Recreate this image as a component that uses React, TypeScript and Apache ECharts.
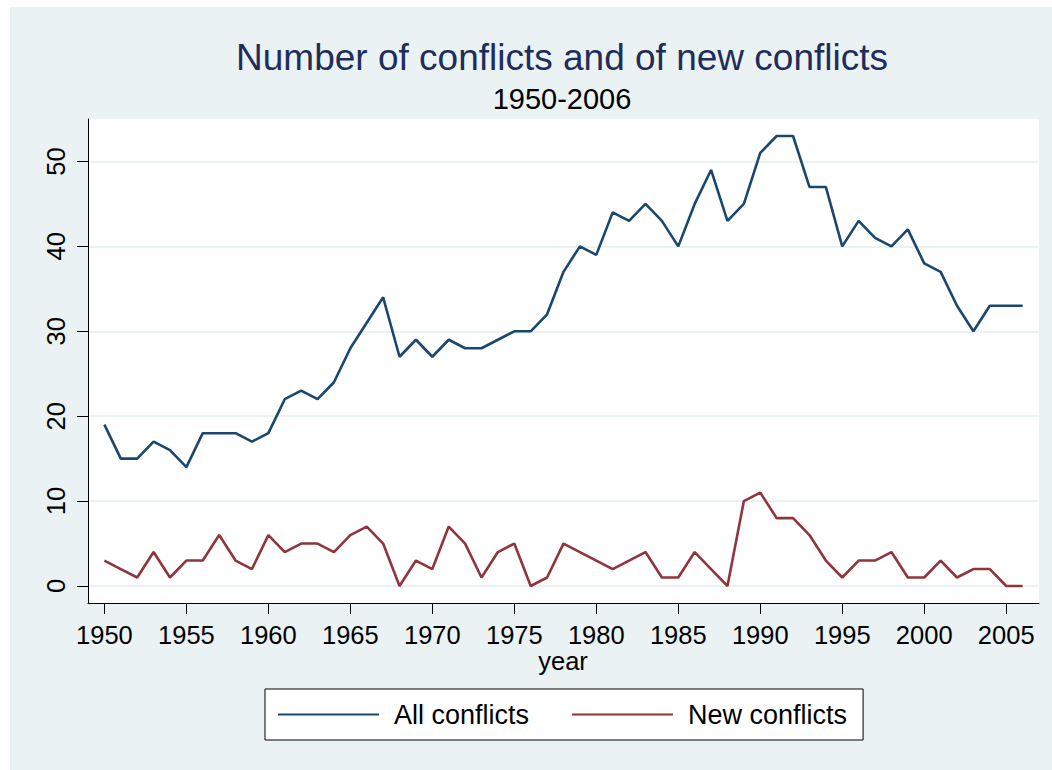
import React, { useEffect, useRef } from "react";
import * as echarts from "echarts";

const years: number[] = [
  1950, 1951, 1952, 1953, 1954, 1955, 1956, 1957, 1958, 1959,
  1960, 1961, 1962, 1963, 1964, 1965, 1966, 1967, 1968, 1969,
  1970, 1971, 1972, 1973, 1974, 1975, 1976, 1977, 1978, 1979,
  1980, 1981, 1982, 1983, 1984, 1985, 1986, 1987, 1988, 1989,
  1990, 1991, 1992, 1993, 1994, 1995, 1996, 1997, 1998, 1999,
  2000, 2001, 2002, 2003, 2004, 2005, 2006,
];

const allConflicts: number[] = [
  19, 15, 15, 17, 16, 14, 18, 18, 18, 17,
  18, 22, 23, 22, 24, 28, 31, 34, 27, 29,
  27, 29, 28, 28, 29, 30, 30, 32, 37, 40,
  39, 44, 43, 45, 43, 40, 45, 49, 43, 45,
  51, 53, 53, 47, 47, 40, 43, 41, 40, 42,
  38, 37, 33, 30, 33, 33, 33,
];

const newConflicts: number[] = [
  3, 2, 1, 4, 1, 3, 3, 6, 3, 2,
  6, 4, 5, 5, 4, 6, 7, 5, 0, 3,
  2, 7, 5, 1, 4, 5, 0, 1, 5, 4,
  3, 2, 3, 4, 1, 1, 4, 2, 0, 10,
  11, 8, 8, 6, 3, 1, 3, 3, 4, 1,
  1, 3, 1, 2, 2, 0, 0,
];

const xTicks: number[] = [1950, 1955, 1960, 1965, 1970, 1975, 1980, 1985, 1990, 1995, 2000, 2005];
const yTicks: number[] = [0, 10, 20, 30, 40, 50];

const titleText = "Number of conflicts and of new conflicts";
const subtitleText = "1950-2006";
const xName = "year";
const seriesNames = ["All conflicts", "New conflicts"];

const FONT = "'Liberation Sans', Arial, sans-serif";
const BG = "#EAF2F3";

export default function App() {
  const ref = useRef<HTMLDivElement>(null);
  useEffect(() => {
    if (!ref.current) return;
    const chart = echarts.init(ref.current, null, { renderer: "svg" });
    const pair = (vals: number[]) => years.map((y, i) => [y, vals[i]]);
    chart.setOption({
      animation: false,
      backgroundColor: BG,
      textStyle: { fontFamily: FONT },
      graphic: [
        {
          type: "text",
          x: 552,
          y: 50,
          style: {
            text: titleText,
            align: "center",
            verticalAlign: "middle",
            fontFamily: FONT,
            fontSize: 37,
            fill: "#1E2D5B",
          },
        },
        {
          type: "text",
          x: 552,
          y: 92,
          style: {
            text: subtitleText,
            align: "center",
            verticalAlign: "middle",
            fontFamily: FONT,
            fontSize: 29,
            fill: "#000",
          },
        },
        {
          type: "text",
          x: 553,
          y: 654,
          style: {
            text: xName,
            align: "center",
            verticalAlign: "middle",
            fontFamily: FONT,
            fontSize: 25.5,
            fill: "#000",
          },
        },
      ],
      grid: {
        left: 78,
        top: 112,
        width: 951,
        height: 484,
        show: true,
        backgroundColor: "#fff",
        borderWidth: 0,
        containLabel: false,
      },
      legend: {
        left: 255,
        top: 682,
        orient: "horizontal",
        backgroundColor: "#fff",
        borderColor: "#000",
        borderWidth: 1,
        borderRadius: 0,
        padding: [12, 16, 12, 12],
        itemWidth: 101,
        itemHeight: 14,
        itemGap: 42,
        itemStyle: { opacity: 0 },
        textStyle: {
          fontFamily: FONT,
          fontSize: 27,
          color: "#000",
          padding: [0, 0, 0, 10],
        },
        data: seriesNames,
      },
      xAxis: {
        type: "value",
        min: 1949,
        max: 2007,
        axisLine: { show: true, onZero: false, lineStyle: { color: "#000", width: 1 } },
        axisTick: { show: true, inside: false, length: 11, customValues: xTicks, lineStyle: { color: "#000", width: 1 } },
        axisLabel: {
          customValues: xTicks,
          margin: 19,
          fontFamily: FONT,
          fontSize: 25.5,
          color: "#000",
          formatter: (v: number) => String(v),
        },
        splitLine: { show: false },
      },
      yAxis: {
        type: "value",
        min: -2,
        max: 55,
        axisLine: { show: true, onZero: false, lineStyle: { color: "#000", width: 1 } },
        axisTick: { show: true, inside: false, length: 11, customValues: yTicks, lineStyle: { color: "#000", width: 1 } },
        axisLabel: {
          customValues: yTicks,
          rotate: 90,
          margin: 19,
          fontFamily: FONT,
          fontSize: 25.5,
          color: "#000",
        },
        splitLine: { show: true, lineStyle: { color: BG, width: 2 } },
      },
      series: [
        {
          name: seriesNames[0],
          type: "line",
          data: pair(allConflicts),
          symbol: "none",
          lineStyle: { color: "#1A476F", width: 2.6 },
          itemStyle: { color: "#1A476F" },
        },
        {
          name: seriesNames[1],
          type: "line",
          data: pair(newConflicts),
          symbol: "none",
          lineStyle: { color: "#90353B", width: 2.6 },
          itemStyle: { color: "#90353B" },
        },
      ],
    });
    return () => chart.dispose();
  }, []);
  return (
    <div
      ref={ref}
      style={{ position: "absolute", left: 10, top: 7, width: 1042, height: 763 }}
    />
  );
}
